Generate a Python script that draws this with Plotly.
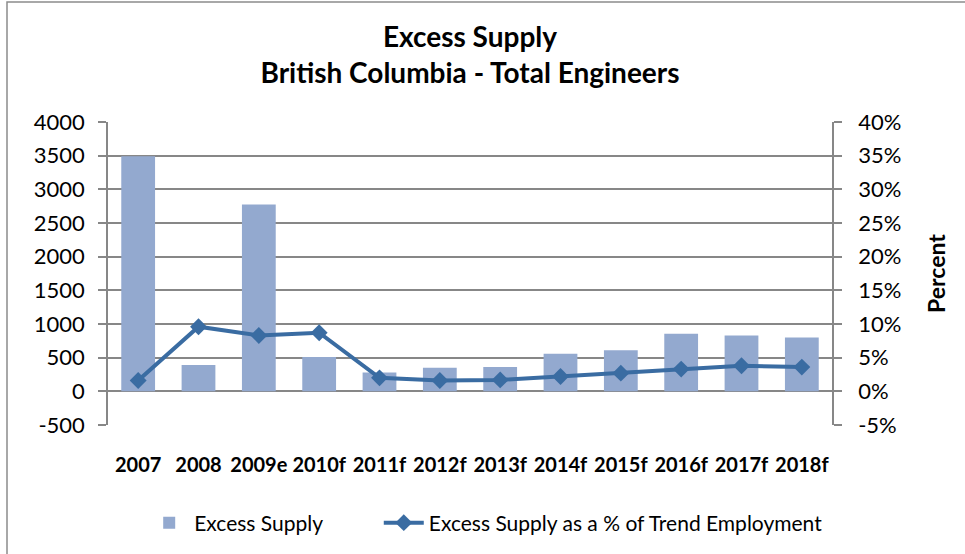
import plotly.graph_objects as go

categories = ["2007", "2008", "2009e", "2010f", "2011f", "2012f", "2013f",
              "2014f", "2015f", "2016f", "2017f", "2018f"]
excess_supply = [3490, 390, 2775, 510, 280, 350, 360, 560, 610, 855, 830, 800]
pct_trend = [0.016, 0.096, 0.083, 0.087, 0.020, 0.016, 0.017, 0.022, 0.027,
             0.033, 0.038, 0.036]

left_tickvals = [-500, 0, 500, 1000, 1500, 2000, 2500, 3000, 3500, 4000]
left_ticktext = ["-500", "0", "500", "1000", "1500", "2000", "2500", "3000", "3500", "4000"]
right_tickvals = [-0.05, 0, 0.05, 0.10, 0.15, 0.20, 0.25, 0.30, 0.35, 0.40]
right_ticktext = ["-5%", "0%", "5%", "10%", "15%", "20%", "25%", "30%", "35%", "40%"]

FONT = "Lato, Carlito, Calibri, sans-serif"
GRID = "#878787"

fig = go.Figure()
fig.add_trace(go.Bar(
    x=categories, y=excess_supply, name="Excess Supply",
    marker=dict(color="#93A9CF", line=dict(width=0)),
    yaxis="y", legend="legend",
))
fig.add_trace(go.Scatter(
    x=categories, y=pct_trend, name="Excess Supply as a % of Trend Employment",
    mode="lines+markers",
    line=dict(color="#3A6CA2", width=4),
    marker=dict(symbol="diamond", size=13, color="#3A6CA2"),
    yaxis="y2", legend="legend2",
))

legend_common = dict(
    orientation="h", xanchor="left", xref="paper",
    yref="container", yanchor="middle",
    font=dict(family=FONT, size=21, color="black"),
    itemwidth=40, bgcolor="rgba(0,0,0,0)",
)

fig.update_layout(
    width=965, height=554, autosize=False,
    margin=dict(l=108, r=133, t=122, b=129, autoexpand=False),
    paper_bgcolor="white", plot_bgcolor="white",
    font=dict(family=FONT, size=20, color="black"),
    title=dict(
        text="<b>Excess Supply<br>British Columbia - Total Engineers</b>",
        x=0.5, xref="paper", xanchor="center",
        y=0.915, yanchor="top",
        font=dict(family=FONT, size=28, color="black"),
    ),
    bargap=0.44,
    showlegend=True,
    legend=dict(x=0.05, y=0.056, **legend_common),
    legend2=dict(x=0.374, y=0.056, **legend_common),
    xaxis=dict(
        type="category", automargin=False,
        range=[-0.5, len(categories) - 0.5],
        showgrid=False, showline=False, ticks="", tickangle=0,
        tickfont=dict(family=FONT, size=20, color="black", weight="bold"),
        ticklabelstandoff=26,
    ),
    yaxis=dict(
        range=[-500, 4000], automargin=False,
        tickvals=left_tickvals, ticktext=left_ticktext,
        showgrid=True, gridcolor=GRID, gridwidth=1.5,
        showline=True, linecolor=GRID, linewidth=1.5,
        ticks="outside", ticklen=8, tickcolor=GRID, tickwidth=1.5,
        tickfont=dict(family=FONT, size=22, color="black"),
        ticklabelstandoff=9,
        zeroline=False,
    ),
    yaxis2=dict(
        range=[-0.05, 0.40], overlaying="y", side="right", automargin=False,
        tickvals=right_tickvals, ticktext=right_ticktext,
        showgrid=False,
        showline=True, linecolor=GRID, linewidth=1.5,
        ticks="outside", ticklen=8, tickcolor=GRID, tickwidth=1.5,
        tickfont=dict(family=FONT, size=22, color="black"),
        ticklabelstandoff=12,
        title=dict(text="<b>Percent</b>", font=dict(family=FONT, size=23, color="black"),
                   standoff=29),
        zeroline=False,
    ),
    shapes=[dict(
        type="rect", xref="paper", yref="paper",
        x0=-0.1395, x1=1.3, y0=-0.5, y1=1.396,
        line=dict(color="#8C8C8C", width=1.5), fillcolor="rgba(0,0,0,0)",
        layer="below",
    )],
)

fig.write_html("out.html", config={"displayModeBar": False},
               post_script="document.body.style.margin='0';")
